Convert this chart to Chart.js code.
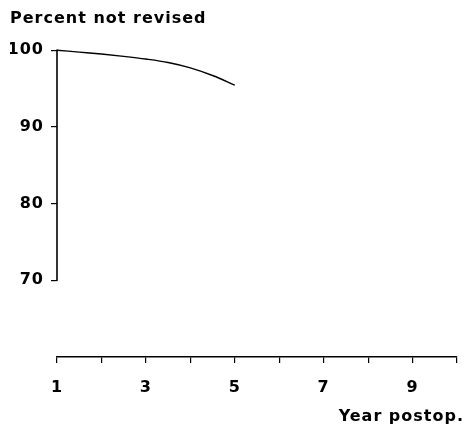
<!DOCTYPE html>
<html>
<head>
<meta charset="utf-8">
<title>Percent not revised</title>
<script src="https://cdn.jsdelivr.net/npm/chart.js@4/dist/chart.umd.min.js"></script>
<style>
  html, body { margin: 0; padding: 0; background: #fff; }
  canvas { display: block; }
</style>
</head>
<body>
<canvas id="chart" width="464" height="432"></canvas>
<script>
// Survival curve: share of implants not revised, by year after the operation
const years = [1, 1.5, 2, 2.5, 3, 3.5, 4, 4.5, 5];
const percentNotRevised = [100, 99.75, 99.5, 99.2, 98.85, 98.4, 97.7, 96.7, 95.45];

// Axis ticks
const yTickValues = [70, 80, 90, 100];
const xTickLabels = [1, 3, 5, 7, 9];
const xRange = [1, 10];
const yRange = [60, 100];

const yTitle = 'Percent not revised';
const xTitle = 'Year postop.';

const ink = '#000';
const fontFamily = '"DejaVu Sans", Verdana, sans-serif';
const spacing = '1px';
const labelFont = { family: fontFamily, size: 16, weight: 'bold', lineHeight: 1.2 };

// Slightly tracked lettering on the canvas context
const tracking = {
  id: 'tracking',
  beforeUpdate(chart) { chart.ctx.letterSpacing = spacing; },
  beforeLayout(chart) { chart.ctx.letterSpacing = spacing; },
  beforeDraw(chart) { chart.ctx.letterSpacing = spacing; }
};

// Vertical axis line spanning only the labelled range
const yAxisLine = {
  id: 'yAxisLine',
  afterDraw(chart) {
    const s = chart.scales.y;
    const ctx = chart.ctx;
    const top = s.getPixelForValue(Math.max(...yTickValues));
    const bottom = s.getPixelForValue(Math.min(...yTickValues));
    ctx.save();
    ctx.strokeStyle = ink;
    ctx.lineWidth = 1.6;
    ctx.beginPath();
    ctx.moveTo(s.right, top - 0.6);
    ctx.lineTo(s.right, bottom + 0.6);
    ctx.stroke();
    ctx.restore();
  }
};

new Chart(document.getElementById('chart'), {
  type: 'line',
  data: {
    datasets: [{
      data: years.map((x, i) => ({ x, y: percentNotRevised[i] })),
      borderColor: ink,
      borderWidth: 1.4,
      pointRadius: 0,
      fill: false,
      cubicInterpolationMode: 'monotone',
      clip: false
    }]
  },
  options: {
    responsive: false,
    animation: false,
    events: [],
    layout: { autoPadding: false, padding: { left: 10, right: 0, top: 0, bottom: 0 } },
    plugins: {
      legend: { display: false },
      tooltip: { enabled: false },
      title: {
        display: true,
        text: yTitle,
        align: 'start',
        position: 'top',
        color: ink,
        font: labelFont,
        padding: { top: 9, bottom: 22 }
      },
      subtitle: {
        display: true,
        text: xTitle,
        align: 'end',
        position: 'bottom',
        color: ink,
        font: labelFont,
        padding: { top: 9.7, bottom: 5.9 }
      }
    },
    scales: {
      x: {
        type: 'linear',
        position: 'bottom',
        min: xRange[0],
        max: xRange[1],
        afterFit: (s) => { s.height = 40.2; s.paddingLeft = 0; s.paddingRight = 0; },
        border: { display: true, color: ink, width: 1.6 },
        grid: {
          display: true,
          drawOnChartArea: false,
          drawTicks: true,
          tickLength: 6,
          color: ink,
          lineWidth: 1.2
        },
        ticks: {
          stepSize: 1,
          autoSkip: false,
          maxRotation: 0,
          padding: 15,
          color: ink,
          font: labelFont,
          callback: (v) => xTickLabels.includes(v) ? String(v) : ''
        }
      },
      y: {
        type: 'linear',
        position: 'left',
        min: yRange[0],
        max: yRange[1],
        afterBuildTicks: (s) => { s.ticks = yTickValues.map(v => ({ value: v })); },
        afterFit: (s) => { s.width = 47; s.paddingTop = 0; s.paddingBottom = 0; },
        border: { display: false },
        grid: {
          display: true,
          drawOnChartArea: false,
          drawTicks: true,
          tickLength: 6,
          color: ink,
          lineWidth: 1.2
        },
        ticks: {
          padding: 7,
          color: ink,
          font: labelFont
        }
      },
      yRight: {
        type: 'linear',
        position: 'right',
        display: true,
        afterFit: (s) => { s.width = 7; s.paddingTop = 0; s.paddingBottom = 0; },
        border: { display: false },
        grid: { display: false, drawTicks: false },
        ticks: { display: false }
      }
    }
  },
  plugins: [tracking, yAxisLine]
});
</script>
</body>
</html>
